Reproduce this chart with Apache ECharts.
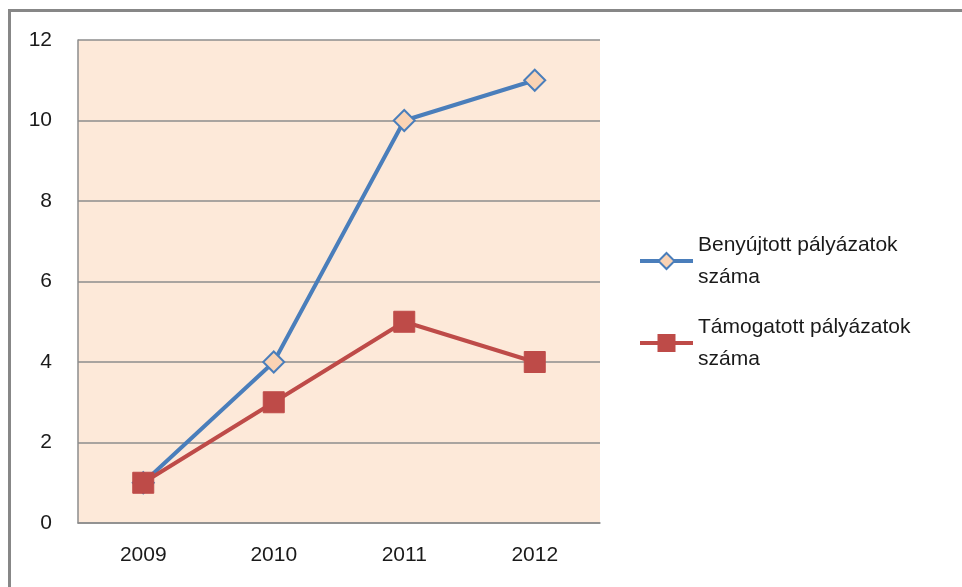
<!DOCTYPE html>
<html>
<head>
<meta charset="utf-8">
<script src="https://cdn.jsdelivr.net/npm/echarts@6/dist/echarts.min.js"></script>
<style>
  html, body { margin: 0; padding: 0; background: #fff; }
  #chart { width: 962px; height: 587px; }
</style>
</head>
<body>
<div id="chart"></div>
<script>
// adatok
const years = ['2009', '2010', '2011', '2012'];
const benyujtott = [1, 4, 10, 11];
const tamogatott = [1, 3, 5, 4];
const seriesNames = ['Benyújtott pályázatok\nszáma', 'Támogatott pályázatok\nszáma'];

const chart = echarts.init(document.getElementById('chart'));
const font = 'Liberation Sans, Arial, sans-serif';

chart.setOption({
    animation: false,
    textStyle: { fontFamily: font },
    graphic: [{
        type: 'rect',
        shape: { x: 9.5, y: 10.5, width: 980, height: 620 },
        style: { fill: 'none', stroke: '#878787', lineWidth: 3 },
        silent: true
    }],
    grid: { left: 78, right: 362, top: 40, bottom: 64, backgroundColor: '#FDE9D9', show: true, borderWidth: 0 },
    legend: {
        orient: 'vertical',
        left: 638,
        top: 229,
        padding: 0,
        itemGap: 18,
        itemWidth: 53,
        itemHeight: 20,
        lineStyle: { width: 4 },
        textStyle: { fontSize: 21, color: '#1a1a1a', lineHeight: 32, fontFamily: font },
        data: seriesNames
    },
    xAxis: {
        type: 'category',
        data: years,
        boundaryGap: true,
        axisLine: { lineStyle: { color: '#8c8c8c', width: 1.5 } },
        axisTick: { show: false },
        axisLabel: { fontSize: 21, color: '#1a1a1a', margin: 22 }
    },
    yAxis: {
        type: 'value',
        min: 0,
        max: 12,
        interval: 2,
        axisLine: { show: true, lineStyle: { color: '#8c8c8c', width: 1.5 } },
        axisTick: { show: false },
        splitLine: { lineStyle: { color: '#8c8c8c', width: 1.5 } },
        axisLabel: { fontSize: 21, color: '#1a1a1a', margin: 26 }
    },
    series: [
        {
            name: seriesNames[0],
            type: 'line',
            data: benyujtott,
            symbol: 'diamond',
            symbolSize: 21,
            lineStyle: { color: '#4A7EBB', width: 4 },
            itemStyle: { color: '#FAD3B4', borderColor: '#4A7EBB', borderWidth: 2 }
        },
        {
            name: seriesNames[1],
            type: 'line',
            data: tamogatott,
            symbol: 'rect',
            symbolSize: 21,
            lineStyle: { color: '#BE4B48', width: 4 },
            itemStyle: { color: '#BE4B48', borderColor: '#BE4B48', borderWidth: 1 }
        }
    ]
});
</script>
</body>
</html>
